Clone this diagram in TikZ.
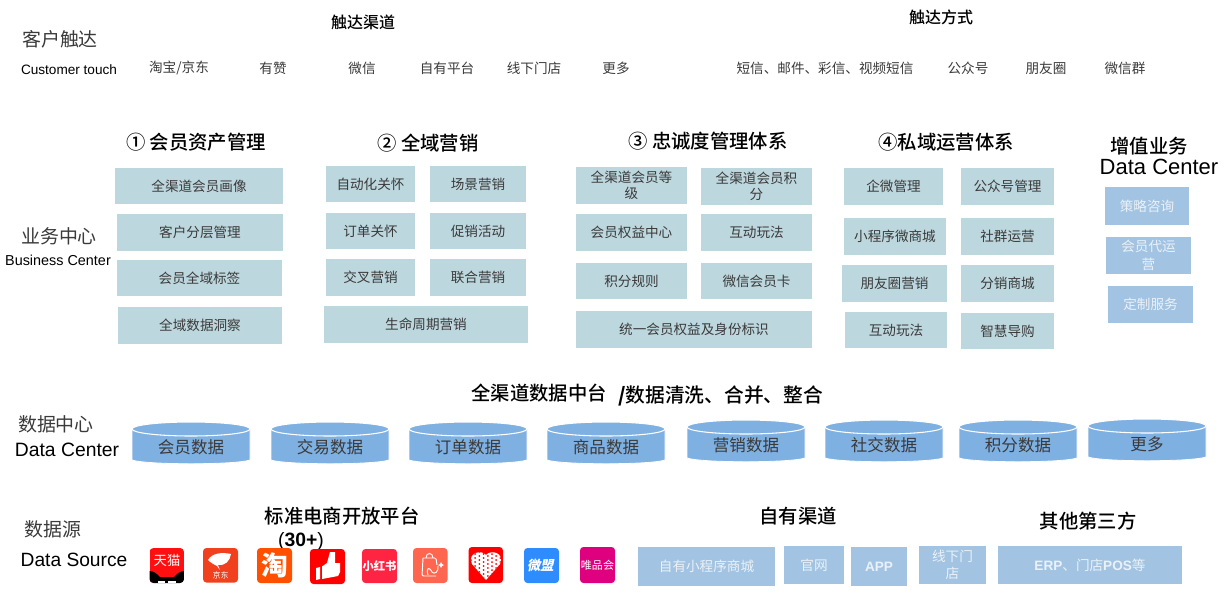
\documentclass[tikz,border=0pt]{standalone}
\usepackage{fontspec}
\setmainfont{Liberation Sans}
\newfontfamily\cjk{Noto Sans CJK SC}
\newfontfamily\cjkm{Noto Sans CJK SC Medium}
\definecolor{tealbox}{HTML}{BDD7DE}
\definecolor{bluebox}{HTML}{A2C4E2}
\definecolor{cyl}{HTML}{7FB0E2}
\definecolor{inktext}{HTML}{3A3A3A}
\definecolor{paletxt}{HTML}{EAF1F8}
\definecolor{weimeng}{HTML}{2F8CFF}
\definecolor{vip}{HTML}{DE007E}
\definecolor{redbook}{HTML}{FF2442}
\definecolor{jdred}{HTML}{F0401E}
\definecolor{taoor}{HTML}{FF5000}
\definecolor{bagor}{HTML}{FF6650}
\tikzset{
 x=0.75pt,y=-0.75pt,
 base/.style={inner sep=0pt,outer sep=0pt,align=center,text=inktext},
 lbl/.style={base,font=\cjk\fontsize{10.2}{12}\selectfont},
 head/.style={base,text=black,font=\cjkm\fontsize{12}{14}\selectfont},
 headb/.style={base,text=black,font=\cjkm\fontsize{14.5}{16}\selectfont},
 cn/.style={base,font=\cjk\fontsize{14.2}{16}\selectfont},
 en/.style={base,text=black,font=\fontsize{14.4}{16}\selectfont},
 box/.style={lbl,draw=white,line width=0.3pt,fill=tealbox},
 bbox/.style={base,draw=white,line width=0.3pt,fill=bluebox,text=paletxt,font=\cjk\fontsize{10.2}{13}\selectfont},
 ico/.style={rounded corners=2.6pt,fill=#1,draw=none},
 icot/.style={base,text=white,font=\cjk\fontsize{7}{8}\selectfont},
}
\newcommand{\bx}[7][box]{\node[#1,minimum width=#5*0.75pt-#3*0.75pt,minimum height=#6*0.75pt-#4*0.75pt,anchor=north west] (#2) at (#3-0.5,#4-0.5) {#7};}
\newcommand{\cyln}[5]{%
 \path[fill=cyl,draw=white,line width=0.6pt] (#2,#3+7) -- (#2,#4-4) .. controls (#2+15,#4+1) and (#2+103,#4+1) .. (#2+118,#4-4) -- (#2+118,#3+7) -- cycle;
 \path[fill=cyl,draw=white,line width=0.8pt] (#2+59,#3+7) ellipse [x radius=59,y radius=7];
 \node[base,font=\cjk\fontsize{12.4}{14}\selectfont] (#1) at (#2+59,#3+25) {#5};}
\begin{document}
\begin{tikzpicture}
\useasboundingbox (0,0) rectangle (1227,611);
\fill[white] (0,0) rectangle (1227,611);
% top row
\node[cn] (ct) at (60,39) {客户触达};
\node[en,font=\fontsize{10.2}{12}\selectfont] (cte) at (69,70) {Customer touch};
\node[head] (qd) at (363,22) {触达渠道};
\node[head] (fs) at (941,17) {触达方式};
\foreach \n/\x/\t in {a/179/{淘宝/京东},b/273/有赞,c/362/微信,d/447/自有平台,e/534/线下门店,f/616/更多,g/825/短信、邮件、彩信、视频短信,h/968/公众号,i/1046/朋友圈,j/1125/微信群}
 \node[lbl] (t\n) at (\x,68) {\t};
% headings
\node[headb] (h1) at (196,142) {① 会员资产管理};
\node[headb] (h2) at (428,143) {② 全域营销};
\node[headb] (h3) at (708,141) {③ 忠诚度管理体系};
\node[headb] (h4) at (946,142) {④私域运营体系};
\node[headb] (h5) at (1149,146) {增值业务};
\node[en,font=\fontsize{16.5}{18}\selectfont] (h5e) at (1159,167) {Data Center};
\node[cn] (bz) at (59,236) {业务中心};
\node[en,font=\fontsize{10.8}{12}\selectfont] (bze) at (58,260) {Business Center};
% col 1
\bx{a1}{115}{168}{284}{205}{全渠道会员画像}
\bx{a2}{117}{214}{284}{252}{客户分层管理}
\bx{a3}{117}{260}{283}{297}{会员全域标签}
\bx{a4}{118}{307}{283}{345}{全域数据洞察}
% col 2
\bx{b1}{326}{166}{416}{203}{自动化关怀}
\bx{b2}{430}{166}{527}{203}{场景营销}
\bx{b3}{326}{213}{416}{250}{订单关怀}
\bx{b4}{430}{213}{527}{250}{促销活动}
\bx{b5}{326}{259}{416}{297}{交叉营销}
\bx{b6}{430}{259}{527}{297}{联合营销}
\bx{b7}{324}{306}{529}{344}{生命周期营销}
% col 3
\bx{c1}{576}{167}{688}{205}{全渠道会员等\\级}
\bx{c2}{701}{168}{813}{206}{全渠道会员积\\分}
\bx{c3}{576}{214}{688}{252}{会员权益中心}
\bx{c4}{701}{214}{813}{252}{互动玩法}
\bx{c5}{576}{263}{688}{300}{积分规则}
\bx{c6}{701}{263}{813}{300}{微信会员卡}
\bx{c7}{576}{311}{813}{349}{统一会员权益及身份标识}
% col 4
\bx{d1}{844}{168}{944}{206}{企微管理}
\bx{d2}{961}{168}{1055}{206}{公众号管理}
\bx{d3}{844}{218}{947}{256}{小程序微商城}
\bx{d4}{961}{218}{1055}{256}{社群运营}
\bx{d5}{842}{265}{948}{303}{朋友圈营销}
\bx{d6}{961}{265}{1055}{303}{分销商城}
\bx{d7}{845}{312}{948}{349}{互动玩法}
\bx{d8}{961}{313}{1055}{350}{智慧导购}
% col 5
\bx[bbox]{e1}{1105}{187}{1190}{226}{策略咨询}
\bx[bbox]{e2}{1106}{237}{1192}{275}{会员代运\\营}
\bx[bbox]{e3}{1108}{286}{1194}{324}{定制服务}
% data centre
\node[headb] (dc) at (539,393) {全渠道数据中台};
\node[headb,anchor=west,font=\cjkm\fontsize{14.8}{16}\selectfont] (dc2) at (618,396) {\textbf{/}数据清洗、合并、整合};
\node[cn] (dz) at (56,424) {数据中心};
\node[en,font=\fontsize{14.5}{16}\selectfont] (dze) at (67,450) {Data Center};
\cyln{y1}{132}{422}{464}{会员数据}
\cyln{y2}{271}{422}{464}{交易数据}
\cyln{y3}{409}{422}{464}{订单数据}
\cyln{y4}{547}{422}{464}{商品数据}
\cyln{y5}{687}{420}{462}{营销数据}
\cyln{y6}{825}{420}{462}{社交数据}
\cyln{y7}{959}{420}{462}{积分数据}
\cyln{y8}{1088}{419}{461}{更多}
% sources
\node[cn] (sz) at (53,529) {数据源};
\node[en] (sze) at (74,560) {Data Source};
\node[headb] (s1) at (342,516) {标准电商开放平台};
\node[base,text=black,font=\fontsize{14.5}{16}\selectfont] (s1b) at (301,541) {(\textbf{30+})};
\node[headb] (s2) at (798,516) {自有渠道};
\node[headb] (s3) at (1088,521) {其他第三方};
\bx[bbox]{f1}{638}{547}{776}{587}{自有小程序商城}
\bx[bbox]{f2}{784}{546}{845}{585}{官网}
\node[bbox,font=\bfseries\fontsize{10.2}{12}\selectfont,minimum width=42.75pt,minimum height=30pt,anchor=north west] (f3) at (850.5,546.5) {APP};
\bx[bbox]{f4}{919}{546}{987}{585}{线下门\\店}
\bx[bbox]{f5}{998}{546}{1183}{585}{{\rmfamily\bfseries ERP}、门店{\rmfamily\bfseries POS}等}
% icon 1
\begin{scope}
\clip[rounded corners=3pt] (149.5,548) rectangle (184,583);
\fill[red!92!pink] (149.5,548) rectangle (184,583);
\fill[black] (149.5,583) -- (149.5,571) .. controls (154,571) and (157,574) .. (160,577) -- (174,577) .. controls (177,574) and (180,571) .. (184,571) -- (184,583) -- cycle;
\fill[white] (158,583) rectangle (176,581);
\fill[black] (165,580) rectangle (168,583);
\end{scope}
\node[icot,font=\cjk\fontsize{10}{11}\selectfont] (i1) at (167,560) {天猫};
% icon 2
\fill[ico=jdred] (203,548) rectangle (238,582.5);
\fill[white] (208,560) .. controls (212,553) and (222,552) .. (231,554) .. controls (230,561) and (225,566) .. (218,565) -- (220,570) -- (217,566) .. controls (213,564) and (210,562) .. (208,560) -- cycle;
\node[icot,font=\cjk\fontsize{6}{7}\selectfont] (i2) at (220.5,575.5) {京东};
% icon 3
\fill[ico=taoor] (257,548) rectangle (292,583);
\node[icot,font=\cjk\bfseries\fontsize{20}{21}\selectfont] (i3) at (274.5,565.5) {淘};
% icon 4
\fill[ico=red] (310,549) rectangle (345,584);
\fill[white] (316,568) -- (320,567) -- (320,579) -- (316,580) -- cycle;
\fill[white] (322,566.5) -- (327,563) -- (330,552) -- (335,552) -- (335,563) -- (340,563) -- (340,572) -- (338,576) -- (322,579) -- cycle;
% icon 5
\fill[ico=redbook] (362,549) rectangle (397,583);
\node[icot,font=\cjk\bfseries\fontsize{8.5}{9}\selectfont] (i5) at (379.5,566) {小红书};
% icon 6
\fill[ico=bagor] (413,548) rectangle (447.5,583);
\draw[white,line width=0.7pt,rounded corners=1pt] (423,558) -- (436,558) -- (437,565) (423,558) -- (422,576) -- (436,576);
\draw[white,line width=0.7pt] (426,558) .. controls (426,552) and (433,552) .. (433,558);
\draw[white,line width=0.7pt] (428,575) .. controls (426,568) and (429,566) .. (432,572) .. controls (434,575) and (439,572) .. (438,566);
\fill[white] (441,562) -- (442,564) -- (444,565) -- (442,566) -- (441,568) -- (440,566) -- (438,565) -- (440,564) -- cycle;
% icon 7
\fill[ico=red] (468.5,547) rectangle (503,583);
\begin{scope}
\clip (486,580) -- (472,564) .. controls (467,553) and (481,549) .. (486,555) .. controls (491,549) and (505,553) .. (500,564) -- cycle;
\fill[white] (468,547) rectangle (503,583);
\foreach \i in {0,...,7} \foreach \j in {0,...,7}
 \fill[red] ({471+\i*4.2},{552+\j*4+mod(\i,2)*2}) circle [radius=1];
\end{scope}
% icon 8
\fill[ico=weimeng] (524,548) rectangle (559,583);
\node[icot,xslant=0.2,font=\cjk\bfseries\fontsize{10}{11}\selectfont] (i8) at (541.5,565.5) {微盟};
% icon 9
\fill[ico=vip] (580,547) rectangle (615,583);
\node[icot,font=\cjk\fontsize{8.3}{9}\selectfont] (i9) at (597.5,565) {唯品会};
\end{tikzpicture}
\end{document}
